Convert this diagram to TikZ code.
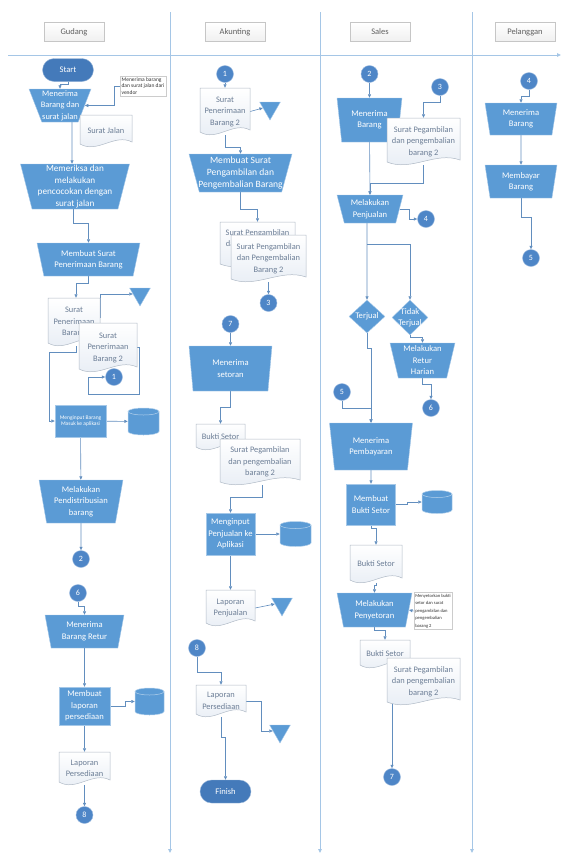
\documentclass[tikz,border=0pt]{standalone}
\usepackage{fontspec}
\setmainfont{Carlito}
\usetikzlibrary{shapes.geometric,shapes.misc,arrows.meta,backgrounds}
\definecolor{shapeblue}{RGB}{91,155,213}
\definecolor{termblue}{RGB}{68,122,186}
\definecolor{connblue}{RGB}{78,134,199}
\definecolor{flowline}{RGB}{98,142,190}
\definecolor{laneline}{RGB}{165,198,230}
\definecolor{docline}{RGB}{176,186,198}
\definecolor{doctext}{RGB}{108,126,150}
\definecolor{docfill}{RGB}{230,236,244}
\newcommand{\boxfont}{\fontsize{8.6}{11.5}\selectfont}
\newcommand{\paperfont}{\fontsize{8.4}{11.5}\selectfont}
\newcommand{\tinyfont}{\fontsize{5.5}{6.5}\selectfont}
\newcommand{\headfont}{\fontsize{8.5}{10}\selectfont}
\tikzset{
  flow/.style={draw=flowline, line width=0.6pt, -{Triangle[length=3.5pt,width=3pt]}},
  lane/.style={draw=laneline, line width=0.9pt, -{Triangle[length=4pt,width=3.5pt]}},
  lanehead/.style={rectangle, draw=gray!45, line width=0.4pt, top color=white, bottom color=gray!12,
    text=gray!75!black, minimum width=60, minimum height=19, font=\headfont},
  manual/.style={trapezium, shape border rotate=180, trapezium stretches body, trapezium angle=#1,
    fill=shapeblue, draw=white!45!shapeblue, line width=0.4pt, text=white, align=center,
    inner xsep=-6pt, inner ysep=0pt, font=\boxfont},
  manual/.default=72,
  proc/.style={rectangle, fill=shapeblue, draw=white!45!shapeblue, line width=0.4pt, text=white,
    align=center, inner sep=0pt, font=\boxfont},
  term/.style={rounded rectangle, fill=termblue, draw=white!45!termblue, line width=0.4pt, text=white,
    minimum width=51, minimum height=23, inner sep=0pt, font=\boxfont},
  conn/.style={circle, fill=connblue, draw=white!45!connblue, line width=0.4pt, text=white,
    minimum size=17, inner sep=0pt, font=\fontsize{8}{9}\selectfont},
  decision/.style={diamond, fill=shapeblue, draw=white!45!shapeblue, line width=0.4pt, text=white,
    inner sep=0pt, align=center, font=\boxfont},
  dbbody/.style={fill=shapeblue, draw=white!55!shapeblue, line width=0.5pt},
  dbnode/.style={rectangle, inner sep=0pt},
  offpage/.style={regular polygon, regular polygon sides=3, shape border rotate=180, fill=shapeblue,
    draw=white!45!shapeblue, line width=0.4pt, minimum size=24, inner sep=0pt},
  doc/.style={rectangle, inner sep=0pt, text=doctext, align=center, font=\paperfont},
  docbody/.style={draw=docline, line width=0.5pt, top color=white, bottom color=docfill},
  note/.style={rectangle, draw=gray!40, line width=0.3pt, fill=white, align=left, inner sep=1.5pt,
    text=black!80, font=\tinyfont},
}
% name, x, y, width, height, text
\newcommand{\docpaper}[6]{%
  \draw[docbody] ({#2-#4/2},{#3-#5/2}) -- ({#2+#4/2},{#3-#5/2}) -- ({#2+#4/2},{#3+#5/2-5})
    .. controls ({#2+#4/6},{#3+#5/2-14}) and ({#2-#4/6},{#3+#5/2+7}) .. ({#2-#4/2},{#3+#5/2-3}) -- cycle;
  \node[doc, minimum width=#4, minimum height=#5] (#1) at (#2,#3) {#6};
}
% name, x, y, width, height
\newcommand{\dbstack}[5]{%
  \draw[dbbody] ({#2-#4/2},{#3-#5/2+3.5}) -- ({#2-#4/2},{#3+#5/2-3.5})
    arc[start angle=180, end angle=0, x radius=#4/2, y radius=3.5] -- ({#2+#4/2},{#3-#5/2+3.5}) -- cycle;
  \draw[dbbody] (#2,{#3-#5/2+3.5}) ellipse [x radius=#4/2, y radius=3.5];
  \node[dbnode, minimum width=#4, minimum height=#5] (#1) at (#2,#3) {};
}

\begin{document}
\begin{tikzpicture}[x=1pt,y=-1pt]
\useasboundingbox (0,0) rectangle (562,855);
%lanes
\node[lanehead] (hg) at (74,32) {Gudang};
\node[lanehead] (ha) at (235,32) {Akunting};
\node[lanehead] (hs) at (380,32) {Sales};
\node[lanehead] (hp) at (525,32) {Pelanggan};
%gudang
\node[term] (start) at (68,70) {Start};
\node[manual=67, minimum width=62, minimum height=33, font=\fontsize{8.4}{11.5}\selectfont] (g1) at (60,105.5) {Menerima\\Barang dan\\surat jalan};
\docpaper{sj}{106}{131}{52}{32}{Surat Jalan}
\node[note] (n1) at (143,86) {Menerima barang\\dan surat jalan dari\\vendor};
\node[manual=75, minimum width=109, minimum height=45, font=\fontsize{9.2}{11.7}\selectfont] (g2) at (75,186.5) {Memeriksa dan\\melakukan\\pencocokan dengan\\surat jalan};
\node[manual=70, minimum width=103, minimum height=33] (g3) at (88.5,259.5) {Membuat Surat\\Penerimaan Barang};
\docpaper{gd1}{74}{322}{52}{48}{Surat\\Penerimaan\\Barang}
\docpaper{gd2}{108}{347.5}{58}{49}{Surat\\Penerimaan\\Barang 2}
\node[offpage] (gt1) at (140,294) {};
\node[conn] (gc1) at (114,377) {1};
\node[proc, minimum width=51, minimum height=32, font=\tinyfont] (g4) at (80.5,421) {Menginput Barang\\Masuk ke aplikasi};
\dbstack{gdb1}{143.5}{421.5}{31}{27}
\node[manual=76, minimum width=84, minimum height=43] (g5) at (81,501.5) {Melakukan\\Pendistribusian\\barang};
\node[conn] (gc2) at (81,559) {2};
\node[conn] (gc6) at (78,593) {6};
\node[manual=72, minimum width=79, minimum height=33] (g6) at (84.5,631.5) {Menerima\\Barang Retur};
\node[proc, minimum width=51, minimum height=38] (g7) at (84.5,706) {Membuat\\laporan\\persediaan};
\dbstack{gdb2}{149.5}{701.5}{29}{27}
\docpaper{gd3}{84.5}{768.5}{51}{33}{Laporan\\Persediaan}
\node[conn] (gc8) at (84.5,815) {8};
%akunting
\node[conn] (ac1) at (225,74) {1};
\docpaper{ad1}{225}{111.5}{50}{47}{Surat\\Penerimaan\\Barang 2}
\node[offpage] (at1) at (270,108) {};
\node[manual=72, minimum width=103, minimum height=38, font=\fontsize{9.6}{11.7}\selectfont] (a1) at (240.5,173) {Membuat Surat\\Pengambilan dan\\Pengembalian Barang};
\docpaper{ad2}{257.5}{244.5}{75}{45}{Surat Pengambilan\\dan Pengembalian\\Barang}
\docpaper{ad3}{268.5}{258.5}{75}{47}{Surat Pengambilan\\dan Pengembalian\\Barang 2}
\node[conn] (ac3) at (268.5,303) {3};
\node[conn] (ac7) at (230.5,324) {7};
\node[manual=77, minimum width=83, minimum height=45] (a2) at (230.5,368.5) {Menerima\\setoran};
\docpaper{ad4}{220.5}{437}{49}{26}{Bukti Setor}
\docpaper{ad5}{260}{462}{80}{46}{Surat Pegambilan\\dan pengembalian\\barang 2}
\node[proc, minimum width=49, minimum height=42] (a3) at (230.5,534) {Menginput\\Penjualan ke\\Aplikasi};
\dbstack{adb1}{295.5}{534}{31}{25}
\docpaper{ad6}{230.5}{608}{49}{36}{Laporan\\Penjualan}
\node[offpage] (at2) at (282,604) {};
\node[conn] (ac8) at (197,648) {8};
\docpaper{ad7}{221}{701}{50}{32}{Laporan\\Persediaan}
\node[offpage] (at3) at (280,731) {};
\node[term] (finish) at (225.5,791.5) {Finish};
%sales
\node[conn] (sc2) at (369.5,74) {2};
\node[manual=76, minimum width=65, minimum height=44] (s1) at (369.5,120) {Menerima\\Barang};
\node[conn] (sc3) at (440,87) {3};
\docpaper{sd1}{423.5}{141.5}{73}{47}{Surat Pegambilan\\dan pengembalian\\barang 2}
\node[manual=69, minimum width=66, minimum height=28] (s2) at (370,209) {Melakukan\\Penjualan};
\node[conn] (sc4) at (426,219) {4};
\node[decision, minimum width=36, minimum height=33] (t1) at (367,316.5) {\makebox[0pt]{Terjual}};
\node[decision, minimum width=36, minimum height=35] (t2) at (410,317.5) {\makebox[0pt]{Tidak}\\\makebox[0pt]{Terjual}};
\node[manual=74, minimum width=65, minimum height=35] (s3) at (422.5,360.5) {Melakukan\\Retur\\Harian};
\node[conn] (sc6) at (431,408) {6};
\node[conn] (sc5) at (342,392) {5};
\node[manual=75, minimum width=83, minimum height=47] (s4) at (371,446.5) {Menerima\\Pembayaran};
\node[proc, minimum width=49, minimum height=41] (s5) at (371,504.5) {Membuat\\Bukti Setor};
\dbstack{sdb1}{437}{502}{30}{23}
\docpaper{sd2}{376}{564}{52}{38}{Bukti Setor}
\node[manual=71, minimum width=75, minimum height=34] (s6) at (374.5,610) {Melakukan\\Penyetoran};
\node[note, font=\fontsize{4.6}{7.5}\selectfont] (n2) at (433,611) {Menyetorkan bukti\\setor dan surat\\pengambilan dan\\pengembalian\\barang 2};
\docpaper{sd3}{385}{654}{50}{28}{Bukti Setor}
\docpaper{sd4}{423.5}{681.5}{73}{47}{Surat Pegambilan\\dan pengembalian\\barang 2}
\node[conn] (sc7) at (392,777) {7};
%pelanggan
\node[conn] (pc4) at (529,81) {4};
\node[manual=75, minimum width=72, minimum height=32] (p1) at (521,119) {Menerima\\Barang};
\node[manual=75, minimum width=72, minimum height=33] (p2) at (521,181.5) {Membayar\\Barang};
\node[conn] (pc5) at (531,258) {5};
\begin{scope}[on background layer]
\draw[lane] (8,55) -- (561,55);
\draw[lane] (170,12) -- (170,853);
\draw[lane] (320,12) -- (320,853);
\draw[lane] (472,12) -- (472,853);
%gudang
\draw[flow] (start.south) -- ++(0,3) -| (g1.north);
\draw[flow] (n1.west) -- ++(-6,0) |- (g1.east);
\draw[flow] ([xshift=12pt]g1.south) -- ([xshift=-3pt]g2.north);
\draw[flow] ([xshift=-2pt]g2.south) -- ++(0,14) -| (g3.north);
\draw[flow] (g3.south) -- ++(0,7) -| ([xshift=2pt]gd1.north);
\draw[flow] ([yshift=4pt]gd1.east) |- (gt1.west);
\draw[flow] (gd2.east) -- ++(2,0) -- ++(0,46.5) -| ([xshift=-17pt]gc1.west) -- (gc1.west);
\draw[flow] ([xshift=2pt]gd1.south) -- ++(0,6) -| ([xshift=-6pt]g4.west) -- (g4.west);
\draw[flow] (g4) -- (gdb1);
\draw[flow] (g4) -- (g5);
\draw[flow] (g5) -- (gc2);
\draw[flow] (gc6.south) -- ++(0,5) -| (g6.north);
\draw[flow] (g6) -- (g7);
\draw[flow] (g7.east) -- ++(15,0) |- (gdb2.west);
\draw[flow] (g7) -- (gd3);
\draw[flow] (gd3) -- (gc8);
%akunting
\draw[flow] (ac1) -- (ad1);
\draw[flow] (ad1.east) -- (at1.west);
\draw[flow] (ad1.south) -- ++(0,12) -| (a1.north);
\draw[flow] (a1.south) -- ++(0,17) -| (ad2.north);
\draw[flow] (ad3) -- (ac3);
\draw[flow] (ac7) -- (a2);
\draw[flow] (a2.south) -- ++(0,16) -| (ad4.north);
\draw[flow] ([xshift=2pt]ad5.south) -- ++(0,12) -| (a3.north);
\draw[flow] (a3) -- (adb1);
\draw[flow] (a3) -- (ad6);
\draw[flow] (ad6.east) -- (at2.west);
\draw[flow] (ac8.south) -- ++(0,16) -| (ad7.north);
\draw[flow] (ad7.east) -- ++(15,0) |- (at3.west);
\draw[flow] (ad7.south) -- ++(0,20) -| (finish.north);
%sales
\draw[flow] (sc2) -- (s1);
\draw[flow] (sc3.south) -- ++(0,7) -| (sd1.north);
\draw[flow] (s1) -- (s2);
\draw[flow] (sd1.south) -- ++(0,18) -| (s2.north);
\draw[flow] (s2.east) -- ++(10,0) |- (sc4.west);
\draw[flow] ([xshift=-3pt]s2.south) -- (t1.north);
\draw[flow] ([xshift=-3pt]s2.south) ++(0,21) -| (t2.north);
\draw[flow] (t2.south) -- ++(0,2) -| (s3.north);
\draw[flow] (s3.south) -- ++(0,6) -| (sc6.north);
\draw[flow] (t1.south) -- ++(0,15) -| (s4.north);
\draw[flow] (sc5.south) -- ++(0,8) -| (s4.north);
\draw[flow] (s4) -- (s5);
\draw[flow] (s5.east) -- ++(12,0) |- (sdb1.west);
\draw[flow] (s5.south) -- ++(0,3) -| (sd2.north);
\draw[flow] (sd2.south) -- ++(0,2) -| (s6.north);
\draw[flow] (n2.west) -- (s6.east);
\draw[flow] (s6.south) -- ++(0,3) -| (sd3.north);
\draw[flow] ([xshift=7pt]sd3.south) -- (sc7.north);
%pelanggan
\draw[flow] (pc4.south) -- ++(0,7) -| (p1.north);
\draw[flow] (p1) -- (p2);
\draw[flow] (p2.south) -- ++(0,19) -| (pc5.north);
\end{scope}
\end{tikzpicture}
\end{document}
